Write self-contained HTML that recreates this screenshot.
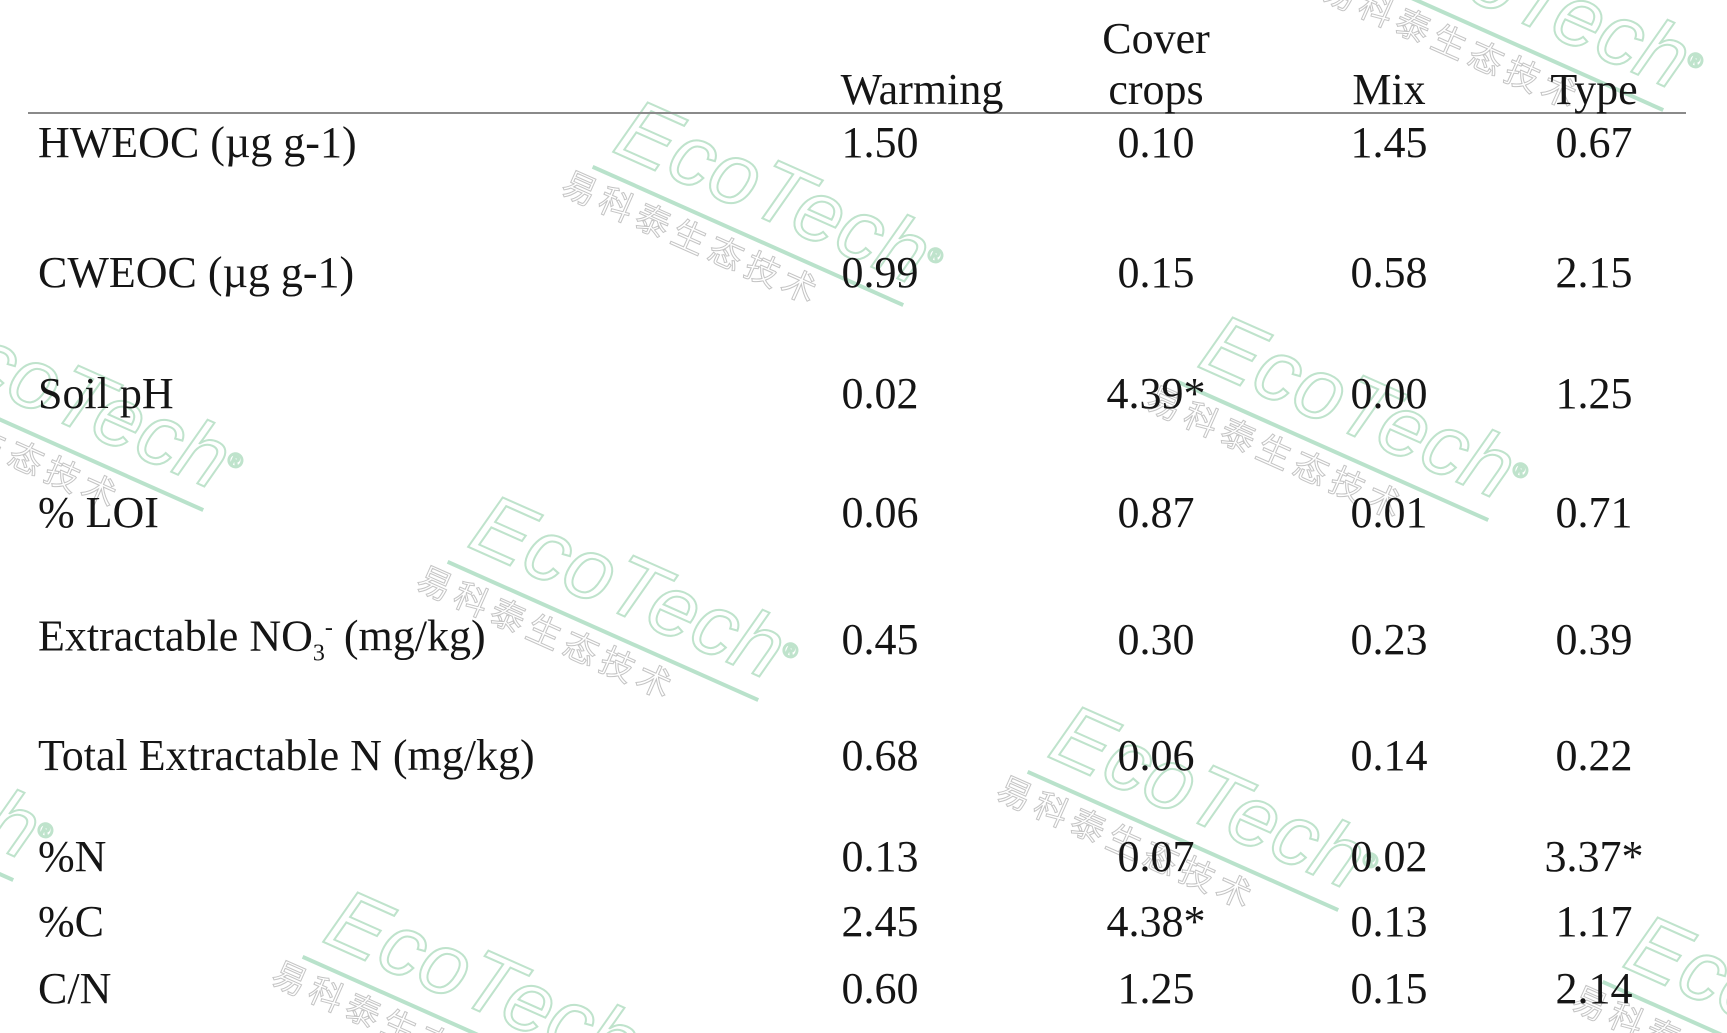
<!DOCTYPE html>
<html><head><meta charset="utf-8"><style>
html,body{margin:0;padding:0;background:#fff;width:1727px;height:1033px;overflow:hidden}
#c{position:relative;width:1727px;height:1033px;overflow:hidden;background:#fff;font-family:"Liberation Serif",serif;color:#151515}
.t{position:absolute;font-size:44px;white-space:nowrap;transform:translate(-50%,-50%);line-height:1}
.l{position:absolute;font-size:44px;white-space:nowrap;transform:translateY(-50%);line-height:1;left:38px}
.wm{position:absolute;transform-origin:0 0;transform:rotate(24deg);color:transparent;-webkit-text-stroke:2px #bfe3cc;font-family:"Liberation Sans",sans-serif;font-size:86px;font-style:italic;white-space:nowrap;line-height:1}
.wm .bar{position:absolute;left:-10px;top:92px;width:340px;height:4px;background:#b9e2cb}
.wm .cn{position:absolute;left:-30px;top:100px;font-size:34px;font-style:normal;font-family:"Noto Sans CJK SC",sans-serif;-webkit-text-stroke:1px #c4c4c4;letter-spacing:6px}
.wm sup{font-size:20px}
</style></head><body><div id="c">
<div class="wm" style="left:640px;top:85px">EcoTech<sup>®</sup><div class="bar"></div><div class="cn">易科泰生态技术</div></div>
<div class="wm" style="left:495px;top:480px">EcoTech<sup>®</sup><div class="bar"></div><div class="cn">易科泰生态技术</div></div>
<div class="wm" style="left:1225px;top:300px">EcoTech<sup>®</sup><div class="bar"></div><div class="cn">易科泰生态技术</div></div>
<div class="wm" style="left:1075px;top:690px">EcoTech<sup>®</sup><div class="bar"></div><div class="cn">易科泰生态技术</div></div>
<div class="wm" style="left:350px;top:875px">EcoTech<sup>®</sup><div class="bar"></div><div class="cn">易科泰生态技术</div></div>
<div class="wm" style="left:1400px;top:-110px">EcoTech<sup>®</sup><div class="bar"></div><div class="cn">易科泰生态技术</div></div>
<div class="wm" style="left:-60px;top:290px">EcoTech<sup>®</sup><div class="bar"></div><div class="cn">易科泰生态技术</div></div>
<div class="wm" style="left:-250px;top:660px">EcoTech<sup>®</sup><div class="bar"></div><div class="cn">易科泰生态技术</div></div>
<div class="wm" style="left:1650px;top:900px">EcoTech<sup>®</sup><div class="bar"></div><div class="cn">易科泰生态技术</div></div>

<div style="position:absolute;left:28px;top:112px;width:1658px;height:2px;background:#8a8a8a"></div>
<div class="t" style="left:922px;top:90px">Warming</div>
<div class="t" style="left:1156px;top:39px">Cover</div>
<div class="t" style="left:1156px;top:90px">crops</div>
<div class="t" style="left:1389px;top:90px">Mix</div>
<div class="t" style="left:1594px;top:90px">Type</div>

<div class="l" style="top:143px">HWEOC (µg g-1)</div>
<div class="t" style="left:880px;top:143px">1.50</div><div class="t" style="left:1156px;top:143px">0.10</div><div class="t" style="left:1389px;top:143px">1.45</div><div class="t" style="left:1594px;top:143px">0.67</div>

<div class="l" style="top:273px">CWEOC (µg g-1)</div>
<div class="t" style="left:880px;top:273px">0.99</div><div class="t" style="left:1156px;top:273px">0.15</div><div class="t" style="left:1389px;top:273px">0.58</div><div class="t" style="left:1594px;top:273px">2.15</div>

<div class="l" style="top:394px">Soil pH</div>
<div class="t" style="left:880px;top:394px">0.02</div><div class="t" style="left:1156px;top:394px">4.39*</div><div class="t" style="left:1389px;top:394px">0.00</div><div class="t" style="left:1594px;top:394px">1.25</div>

<div class="l" style="top:513px">% LOI</div>
<div class="t" style="left:880px;top:513px">0.06</div><div class="t" style="left:1156px;top:513px">0.87</div><div class="t" style="left:1389px;top:513px">0.01</div><div class="t" style="left:1594px;top:513px">0.71</div>

<div class="l" style="top:640px">Extractable NO<sub style="font-size:24px">3</sub><sup style="font-size:24px">-</sup> (mg/kg)</div>
<div class="t" style="left:880px;top:640px">0.45</div><div class="t" style="left:1156px;top:640px">0.30</div><div class="t" style="left:1389px;top:640px">0.23</div><div class="t" style="left:1594px;top:640px">0.39</div>

<div class="l" style="top:756px">Total Extractable N (mg/kg)</div>
<div class="t" style="left:880px;top:756px">0.68</div><div class="t" style="left:1156px;top:756px">0.06</div><div class="t" style="left:1389px;top:756px">0.14</div><div class="t" style="left:1594px;top:756px">0.22</div>

<div class="l" style="top:857px">%N</div>
<div class="t" style="left:880px;top:857px">0.13</div><div class="t" style="left:1156px;top:857px">0.07</div><div class="t" style="left:1389px;top:857px">0.02</div><div class="t" style="left:1594px;top:857px">3.37*</div>

<div class="l" style="top:922px">%C</div>
<div class="t" style="left:880px;top:922px">2.45</div><div class="t" style="left:1156px;top:922px">4.38*</div><div class="t" style="left:1389px;top:922px">0.13</div><div class="t" style="left:1594px;top:922px">1.17</div>

<div class="l" style="top:989px">C/N</div>
<div class="t" style="left:880px;top:989px">0.60</div><div class="t" style="left:1156px;top:989px">1.25</div><div class="t" style="left:1389px;top:989px">0.15</div><div class="t" style="left:1594px;top:989px">2.14</div>
</div></body></html>
